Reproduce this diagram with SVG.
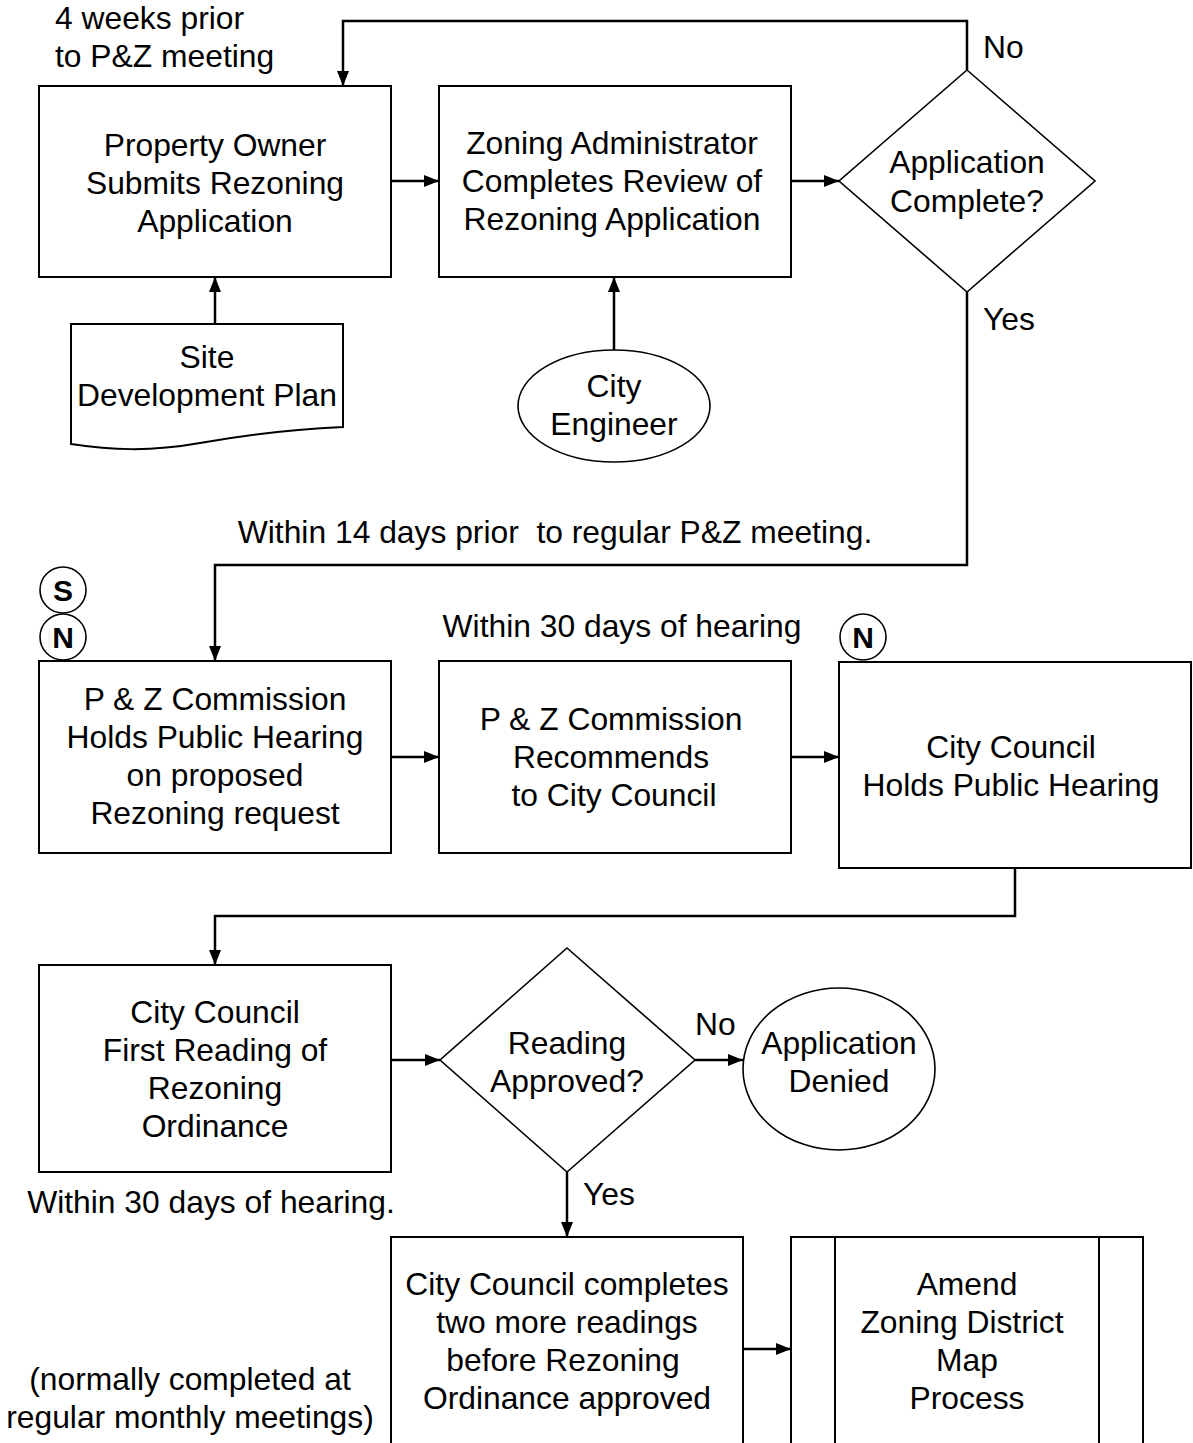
<svg xmlns="http://www.w3.org/2000/svg" width="1193" height="1443" viewBox="0 0 1193 1443">
<style>
  .box { fill: #fff; stroke: #000; stroke-width: 2; }
  .thin { fill: #fff; stroke: #000; stroke-width: 1.6; }
  .conn { fill: none; stroke: #000; stroke-width: 2.5; marker-end: url(#arr); }
  text { font-family: "Liberation Sans", Arial, sans-serif; font-size: 31.8px; fill: #000; }
  .c { text-anchor: middle; }
  .badge { font-weight: bold; font-size: 30px; text-anchor: middle; }
</style>
<defs>
  <marker id="arr" markerUnits="userSpaceOnUse" markerWidth="16" markerHeight="14" refX="15" refY="6" orient="auto">
    <path d="M0,0 L15,6 L0,12 z" fill="#000"/>
  </marker>
</defs>
<rect width="1193" height="1443" fill="#fff"/>

<g id="connectors">
  <path class="conn" d="M967,70 V21 H343 V86"/>
  <path class="conn" d="M391,181 H439"/>
  <path class="conn" d="M791,181 H839"/>
  <path class="conn" d="M215,324 V277"/>
  <path class="conn" d="M614,350 V277"/>
  <path class="conn" d="M967,292 V565 H215 V661"/>
  <path class="conn" d="M391,757 H439"/>
  <path class="conn" d="M791,757 H839"/>
  <path class="conn" d="M1015,868 V916 H215 V965"/>
  <path class="conn" d="M391,1060 H440"/>
  <path class="conn" d="M695,1060 H743"/>
  <path class="conn" d="M567,1172 V1237"/>
  <path class="conn" d="M743,1349 H791"/>
</g>

<g id="labels">
  <text x="55" y="29">4 weeks prior</text>
  <text x="55" y="67">to P&amp;Z meeting</text>
  <text x="983" y="58">No</text>
  <text x="983" y="330">Yes</text>
  <text x="555" y="543" class="c" xml:space="preserve">Within 14 days prior  to regular P&amp;Z meeting.</text>
  <text x="622" y="637" class="c">Within 30 days of hearing</text>
  <text x="695" y="1035">No</text>
  <text x="583" y="1205">Yes</text>
  <text x="211" y="1213" class="c">Within 30 days of hearing.</text>
  <text x="190" y="1390" class="c">(normally completed at</text>
  <text x="190" y="1428" class="c">regular monthly meetings)</text>
</g>

<g id="owner-submits">
  <rect class="box" x="39" y="86" width="352" height="191"/>
  <text x="215" y="156" class="c">Property Owner</text>
  <text x="215" y="194" class="c">Submits Rezoning</text>
  <text x="215" y="232" class="c">Application</text>
</g>

<g id="admin-review">
  <rect class="box" x="439" y="86" width="352" height="191"/>
  <text x="612" y="154" class="c">Zoning Administrator</text>
  <text x="612" y="192" class="c">Completes Review of</text>
  <text x="612" y="230" class="c">Rezoning Application</text>
</g>

<g id="app-complete">
  <polygon class="thin" points="967,70 1095,181 967,292 839,181"/>
  <text x="967" y="173" class="c">Application</text>
  <text x="967" y="212" class="c">Complete?</text>
</g>

<g id="site-plan">
  <path class="box" d="M71,324 H343 V427 C300,429 250,434 200,443 C150,452 110,450 71,444 Z"/>
  <text x="207" y="368" class="c">Site</text>
  <text x="207" y="406" class="c">Development Plan</text>
</g>

<g id="city-engineer">
  <ellipse class="thin" cx="614" cy="406" rx="96" ry="56"/>
  <text x="614" y="397" class="c">City</text>
  <text x="614" y="435" class="c">Engineer</text>
</g>

<g id="badge-s">
  <circle class="thin" cx="63" cy="590" r="23"/>
  <text x="63" y="601" class="badge">S</text>
</g>
<g id="badge-n1">
  <circle class="thin" cx="63" cy="637" r="23"/>
  <text x="63" y="648" class="badge">N</text>
</g>

<g id="pz-hearing">
  <rect class="box" x="39" y="661" width="352" height="192"/>
  <text x="215" y="710" class="c">P &amp; Z Commission</text>
  <text x="215" y="748" class="c">Holds Public Hearing</text>
  <text x="215" y="786" class="c">on proposed</text>
  <text x="215" y="824" class="c">Rezoning request</text>
</g>

<g id="pz-recommends">
  <rect class="box" x="439" y="661" width="352" height="192"/>
  <text x="611" y="730" class="c">P &amp; Z Commission</text>
  <text x="611" y="768" class="c">Recommends</text>
  <text x="614" y="806" class="c">to City Council</text>
</g>

<g id="badge-n2">
  <circle class="thin" cx="863" cy="637" r="23"/>
  <text x="863" y="648" class="badge">N</text>
</g>

<g id="council-hearing">
  <rect class="box" x="839" y="662" width="352" height="206"/>
  <text x="1011" y="758" class="c">City Council</text>
  <text x="1011" y="796" class="c">Holds Public Hearing</text>
</g>

<g id="first-reading">
  <rect class="box" x="39" y="965" width="352" height="207"/>
  <text x="215" y="1023" class="c">City Council</text>
  <text x="215" y="1061" class="c">First Reading of</text>
  <text x="215" y="1099" class="c">Rezoning</text>
  <text x="215" y="1137" class="c">Ordinance</text>
</g>

<g id="reading-approved">
  <polygon class="thin" points="567,948 695,1060 567,1172 440,1060"/>
  <text x="567" y="1054" class="c">Reading</text>
  <text x="567" y="1092" class="c">Approved?</text>
</g>

<g id="app-denied">
  <ellipse class="thin" cx="839" cy="1069" rx="96" ry="81"/>
  <text x="839" y="1054" class="c">Application</text>
  <text x="839" y="1092" class="c">Denied</text>
</g>

<g id="more-readings">
  <rect class="box" x="391" y="1237" width="352" height="230"/>
  <text x="567" y="1295" class="c">City Council completes</text>
  <text x="567" y="1333" class="c">two more readings</text>
  <text x="563" y="1371" class="c">before Rezoning</text>
  <text x="567" y="1409" class="c">Ordinance approved</text>
</g>

<g id="amend-map">
  <rect class="box" x="791" y="1237" width="352" height="230"/>
  <line x1="835" y1="1237" x2="835" y2="1467" stroke="#000" stroke-width="2"/>
  <line x1="1099" y1="1237" x2="1099" y2="1467" stroke="#000" stroke-width="2"/>
  <text x="967" y="1295" class="c">Amend</text>
  <text x="962" y="1333" class="c">Zoning District</text>
  <text x="967" y="1371" class="c">Map</text>
  <text x="967" y="1409" class="c">Process</text>
</g>
</svg>
